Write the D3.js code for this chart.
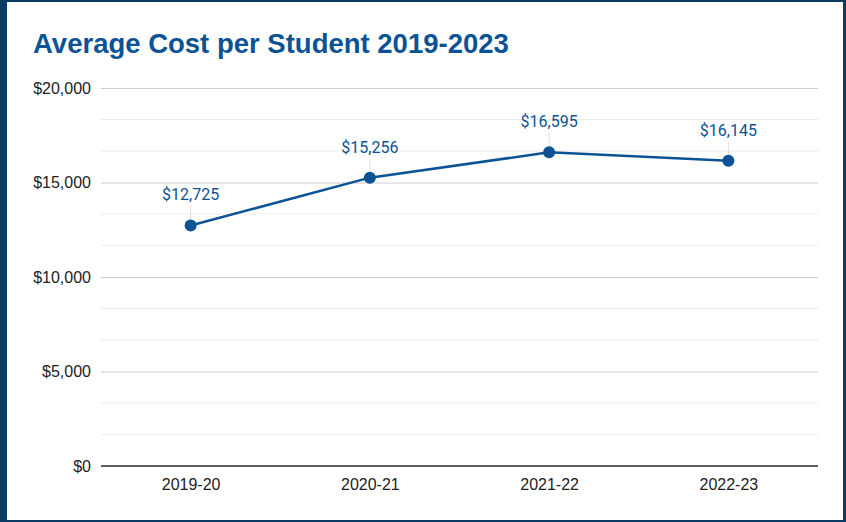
<!DOCTYPE html>
<html>
<head>
<meta charset="UTF-8">
<title>Average Cost per Student</title>
<style>
body { margin: 0; background: #fff; }
svg { display: block; }
</style>
</head>
<body>
<script src="https://cdn.jsdelivr.net/npm/d3@7"></script>
<script>
var years = ["2019-20", "2020-21", "2021-22", "2022-23"];
var costs = [12725, 15256, 16595, 16145];
var yTicks = [0, 5000, 10000, 15000, 20000];

var width = 846, height = 522;
var margin = {top: 88, right: 28, bottom: 56, left: 101};

var svg = d3.select("body").append("svg")
  .attr("width", width)
  .attr("height", height);

// frame
svg.append("rect").attr("width", width).attr("height", height).attr("fill", "#0b3a66");
svg.append("rect")
  .attr("x", 7).attr("y", 2)
  .attr("width", width - 7 - 3).attr("height", height - 2 - 2)
  .attr("fill", "#fff");

svg.append("text")
  .attr("x", 33).attr("y", 53)
  .attr("font-family", "Arial, 'Liberation Sans', sans-serif")
  .attr("font-weight", "bold")
  .attr("font-size", 27.5)
  .attr("fill", "#0b5394")
  .text("Average Cost per Student 2019-2023");

var x = d3.scalePoint()
  .domain(years)
  .range([margin.left, width - margin.right])
  .padding(0.5);

var y = d3.scaleLinear()
  .domain([0, 20000])
  .range([height - margin.bottom, margin.top]);

// minor gridlines (thirds between major ticks)
var minor = [];
for (var i = 0; i < yTicks.length - 1; i++) {
  var step = (yTicks[i + 1] - yTicks[i]) / 3;
  minor.push(yTicks[i] + step, yTicks[i] + 2 * step);
}
svg.append("g").selectAll("line").data(minor).enter().append("line")
  .attr("x1", margin.left).attr("x2", width - margin.right)
  .attr("y1", function(d){ return y(d); })
  .attr("y2", function(d){ return y(d); })
  .attr("stroke", "#ececec").attr("stroke-width", 1);

// y axis + major gridlines
var yAxis = svg.append("g")
  .attr("transform", "translate(" + margin.left + ",0)")
  .call(d3.axisLeft(y).tickValues(yTicks)
    .tickSize(-(width - margin.left - margin.right))
    .tickPadding(10)
    .tickFormat(function(d){ return "$" + d3.format(",")(d); }));
yAxis.select(".domain").remove();
yAxis.selectAll(".tick line").attr("stroke", "#cccccc");
yAxis.selectAll(".tick text")
  .attr("font-family", "Arial, 'Liberation Sans', sans-serif")
  .attr("font-size", 16).attr("fill", "#222");

// x axis
var xAxis = svg.append("g")
  .attr("transform", "translate(0," + (height - margin.bottom) + ")")
  .call(d3.axisBottom(x).tickSize(0).tickPadding(13));
xAxis.select(".domain").attr("stroke", "#333").attr("stroke-width", 1.5)
  .attr("d", "M" + margin.left + ",0H" + (width - margin.right));
xAxis.selectAll(".tick text")
  .attr("font-family", "Arial, 'Liberation Sans', sans-serif")
  .attr("font-size", 16).attr("fill", "#222");

var pts = years.map(function(d, i){ return [x(d), y(costs[i])]; });

// leader lines
svg.append("g").selectAll("line").data(pts).enter().append("line")
  .attr("x1", function(d){ return d[0]; }).attr("x2", function(d){ return d[0]; })
  .attr("y1", function(d){ return d[1] - 19; }).attr("y2", function(d){ return d[1]; })
  .attr("stroke", "#dddddd").attr("stroke-width", 1);

svg.append("path")
  .datum(pts)
  .attr("d", d3.line())
  .attr("fill", "none")
  .attr("stroke", "#0b5394")
  .attr("stroke-width", 2.5);

svg.append("g").selectAll("circle").data(pts).enter().append("circle")
  .attr("cx", function(d){ return d[0]; })
  .attr("cy", function(d){ return d[1]; })
  .attr("r", 6)
  .attr("fill", "#0b5394");

svg.append("g").selectAll("text").data(pts).enter().append("text")
  .attr("x", function(d){ return d[0]; })
  .attr("y", function(d){ return d[1] - 25; })
  .attr("text-anchor", "middle")
  .attr("font-family", "Roboto, sans-serif")
  .attr("font-size", 16)
  .attr("fill", "#0b5394")
  .text(function(d, i){ return "$" + d3.format(",")(costs[i]); });
</script>
</body>
</html>
